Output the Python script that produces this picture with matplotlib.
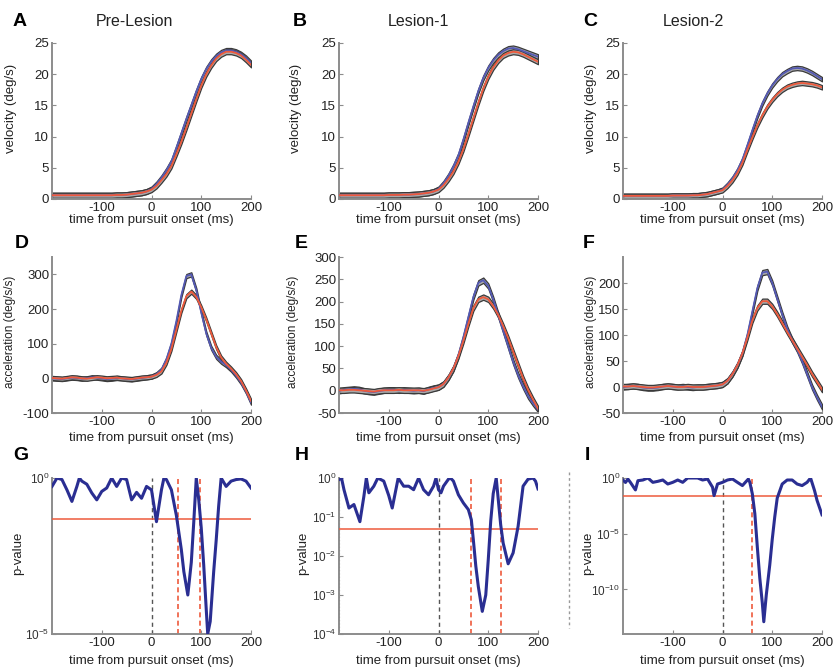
import numpy as np
import matplotlib
matplotlib.use("Agg")
import matplotlib.pyplot as plt
from matplotlib.lines import Line2D
from matplotlib.ticker import FixedLocator, NullLocator, LogFormatterMathtext

plt.rcParams["font.family"] = ["Liberation Sans", "DejaVu Sans"]
plt.rcParams["axes.unicode_minus"] = False

# time base for velocity / acceleration traces (ms)
t = np.arange(-200, 201, 10)

# eye velocity (deg/s), blue = first condition, red = second condition
vel_a_blue = [0.6, 0.6, 0.6, 0.6, 0.6, 0.6, 0.6, 0.6, 0.6, 0.6, 0.6, 0.6, 0.6, 0.65, 0.65,
              0.7, 0.8, 0.9, 1.0, 1.2, 1.6,
              2.4, 3.4, 4.6, 6.0, 8.2, 10.5, 12.8, 15.0, 17.2, 19.2, 20.8, 22.0, 22.9, 23.5,
              23.8, 23.8, 23.6, 23.2, 22.6, 21.8]
vel_a_red = [0.6, 0.6, 0.6, 0.6, 0.6, 0.6, 0.6, 0.6, 0.6, 0.6, 0.6, 0.6, 0.6, 0.65, 0.65,
             0.7, 0.8, 0.9, 1.0, 1.2, 1.5,
             2.1, 3.0, 4.0, 5.3, 7.2, 9.2, 11.4, 13.7, 16.0, 18.2, 20.0, 21.4, 22.5, 23.2,
             23.6, 23.6, 23.4, 23.0, 22.3, 21.5]
vel_b_blue = [0.6, 0.6, 0.6, 0.6, 0.6, 0.6, 0.6, 0.6, 0.6, 0.6, 0.65, 0.65, 0.65, 0.7, 0.7,
              0.75, 0.8, 0.9, 1.0, 1.2, 1.6,
              2.5, 3.7, 5.2, 7.0, 9.5, 12.2, 14.8, 17.3, 19.4, 21.0, 22.2, 23.1, 23.7, 24.1,
              24.2, 24.0, 23.7, 23.4, 23.1, 22.8]
vel_b_red = [0.6, 0.6, 0.6, 0.6, 0.6, 0.6, 0.6, 0.6, 0.6, 0.6, 0.65, 0.65, 0.65, 0.7, 0.7,
             0.75, 0.8, 0.9, 1.0, 1.2, 1.5,
             2.2, 3.2, 4.4, 6.0, 8.0, 10.4, 12.9, 15.4, 17.7, 19.6, 21.1, 22.2, 23.0, 23.4,
             23.6, 23.5, 23.2, 22.8, 22.4, 22.0]
vel_c_blue = [0.5, 0.5, 0.5, 0.5, 0.5, 0.5, 0.5, 0.5, 0.5, 0.5, 0.55, 0.55, 0.55, 0.55, 0.6,
              0.6, 0.7, 0.8, 1.0, 1.2, 1.5,
              2.3, 3.3, 4.6, 6.3, 8.6, 11.0, 13.3, 15.3, 16.9, 18.2, 19.2, 20.0, 20.5, 20.9,
              21.0, 20.9, 20.6, 20.2, 19.7, 19.2]
vel_c_red = [0.5, 0.5, 0.5, 0.5, 0.5, 0.5, 0.5, 0.5, 0.5, 0.5, 0.55, 0.55, 0.55, 0.55, 0.6,
             0.6, 0.7, 0.8, 1.0, 1.2, 1.4,
             2.1, 3.0, 4.2, 5.8, 7.9, 9.9, 11.8, 13.4, 14.8, 15.9, 16.8, 17.5, 18.0, 18.3,
             18.5, 18.6, 18.5, 18.4, 18.2, 17.9]

# eye acceleration (deg/s/s)
acc_d_blue = [0, -1, -2, 0, 2, 1, -1, 0, 3, 2, 0, -2, -1, 1, 0, -2, -3, -1, 1, 3, 5,
              12, 25, 55, 100, 165, 240, 295, 300, 255, 190, 130, 88, 62, 48, 38, 25, 8, -12, -38, -70]
acc_d_red = [1, 0, -1, 1, 3, 2, 0, -1, 1, 3, 2, 0, 1, 2, 0, -1, -2, 0, 2, 3, 5,
             10, 20, 45, 85, 140, 195, 237, 250, 235, 205, 170, 130, 90, 60, 42, 28, 12, -8, -35, -65]
acc_e_blue = [0, 2, 3, 4, 3, 0, -2, -3, -1, 1, 2, 2, 1, 2, 1, 0, 1, -1, 3, 6, 8,
              15, 30, 50, 80, 120, 165, 210, 242, 248, 235, 205, 170, 135, 100, 65, 35, 10, -12, -28, -42]
acc_e_red = [1, 1, 2, 2, 1, 0, -1, -2, 0, 1, 1, 1, 2, 1, 1, 1, 1, 0, 2, 5, 8,
             15, 30, 50, 78, 112, 150, 185, 205, 210, 205, 190, 170, 145, 118, 88, 58, 28, 2, -20, -40]
acc_f_blue = [0, 1, 2, 1, -1, -2, -2, -1, 1, 2, 1, 0, 1, 0, -1, 0, 0, 1, 2, 3, 5,
              12, 25, 42, 65, 100, 145, 190, 220, 222, 200, 170, 140, 112, 90, 72, 50, 25, 0, -20, -38]
acc_f_red = [1, 1, 2, 1, 0, -1, -1, 0, 1, 2, 1, 0, 0, 1, 0, 0, 0, 1, 2, 3, 5,
             12, 25, 42, 65, 95, 128, 152, 165, 165, 155, 140, 123, 106, 90, 74, 58, 42, 25, 10, -5]

# half-width of the SEM band drawn around each mean trace
sem_vel = [0.4, 0.4, 0.35]
sem_acc = [6, 6, 5]

# p-value traces (log10 p) with their own time points
tG = [-200, -190, -180, -170, -160, -150, -145, -140, -130, -120, -110, -100, -90, -80, -70,
      -60, -50, -40, -30, -20, -10, 0, 10, 20, 25, 30, 40, 50, 60, 65, 73, 80, 85, 90, 95,
      100, 105, 110, 113, 118, 125, 130, 135, 140, 150, 160, 170, 180, 190, 200]
lpG = [-0.27, 0.0, -0.05, -0.38, -0.75, -0.27, 0.0, -0.1, -0.2, -0.48, -0.7, -0.43, -0.32, 0.0, -0.27,
       0.0, -0.05, -0.7, -0.46, -0.65, -0.27, -0.38, -1.4, -0.38, 0.0, -0.05, -0.38, -1.2, -2.3, -3.0,
       -3.75, -2.7, -1.4, 0.0, -0.7, -1.6, -2.8, -4.2, -5.0, -4.6, -3.0, -2.0, -0.9, 0.0, -0.27,
       -0.1, -0.05, -0.03, -0.1, -0.32]
tH = [-200, -195, -190, -180, -170, -158, -150, -145, -140, -130, -122, -110, -100, -93, -81,
      -70, -60, -50, -40, -30, -20, -10, -5, 0, 5, 10, 20, 24, 30, 40, 50, 60, 66, 70, 75,
      80, 88, 95, 100, 105, 110, 116, 125, 130, 140, 150, 160, 170, 180, 190, 195, 200]
lpH = [-0.04, 0.0, -0.3, -0.77, -0.68, -1.12, -0.47, 0.0, -0.38, -0.21, 0.0, -0.08, -0.45, -0.77, 0.0,
       -0.21, -0.21, -0.3, 0.0, -0.3, -0.43, -0.21, 0.0, -0.3, -0.38, -0.21, -0.03, 0.0, -0.08, -0.43,
       -0.64, -0.81, -1.07, -1.58, -2.26, -2.78, -3.42, -3.0, -2.1, -1.1, -0.4, 0.0, -1.2, -1.67, -2.2,
       -1.92, -1.24, -0.21, -0.03, 0.0, -0.08, -0.28]
tI = [-200, -195, -190, -185, -175, -170, -160, -150, -140, -130, -120, -110, -100, -90, -80,
      -70, -60, -50, -40, -30, -20, -17, -10, 0, 10, 20, 30, 40, 52, 55, 60, 65, 70, 75, 80,
      83, 88, 95, 100, 105, 110, 120, 130, 140, 150, 160, 170, 177, 185, 190, 200]
lpI = [-0.18, -0.4, -0.1, -0.4, -1.07, -0.24, -0.18, 0.0, -0.39, -0.3, -0.18, -0.54, -0.39, -0.18, -0.39,
       0.0, 0.0, 0.0, -0.18, -0.09, -0.83, -1.58, -0.54, -0.39, -0.18, -0.09, -0.39, -0.68, -0.09, -0.4,
       -1.43, -3.2, -6.2, -9.0, -11.2, -12.9, -10.5, -7.8, -5.5, -3.5, -1.8, -0.54, -0.18, -0.18, -0.54,
       -0.68, -0.39, 0.0, -1.13, -2.0, -3.3]

p_thresh = [0.05, 0.05, 0.025]
sig_lines = [[53, 97], [66, 126], [60]]

titles = ["Pre-Lesion", "Lesion-1", "Lesion-2"]
letters = [["A", "B", "C"], ["D", "E", "F"], ["G", "H", "I"]]

BLUE = "#5459b4"
RED = "#ee5a3c"
PBLUE = "#2a2e92"
BAND_FACE = "#a9a9a9"
BAND_EDGE = "#3a3a3a"
AXC = "#8c8c8c"

W, H = 834, 672
fig = plt.figure(figsize=(W / 100, H / 100), dpi=100)

col_left = [52, 339, 623]
col_w = 199
row_top = [43, 257, 478]
row_h = 156

# label placement (right edge of y label in pixels left of the axes, fraction up the axes)
ylab_dx = [[-35, -37, -26], [-36, -40, -26], [-28, -30, -29]]
ylab_y = [0.58, 0.52, 0.52]
xlab_y = [-0.098, -0.122, -0.135]


def make_ax(r, c):
    x0 = col_left[c]
    y0 = row_top[r]
    return fig.add_axes([x0 / W, 1 - (y0 + row_h) / H, col_w / W, row_h / H])


def style(ax, r, c):
    for s in ["top", "right"]:
        ax.spines[s].set_visible(False)
    for s in ["left", "bottom"]:
        ax.spines[s].set_color(AXC)
        ax.spines[s].set_linewidth(1.4)
    ax.tick_params(direction="in", length=3, width=0.8, color=AXC, labelsize=9.5, labelcolor="#222222", pad=2)
    ax.set_xlim(-200, 200)
    ax.set_xticks([-100, 0, 100, 200])
    ax.set_xlabel("time from pursuit onset (ms)", fontsize=9.5, color="#222222")
    ax.xaxis.set_label_coords(0.5, xlab_y[r])


def band(ax, y, sem, color):
    y = np.array(y, dtype=float)
    ax.fill_between(t, y - sem, y + sem, facecolor=BAND_FACE, edgecolor=BAND_EDGE, linewidth=0.9, zorder=2)
    ax.plot(t, y, color=color, lw=1.3, zorder=3)


vel = [(vel_a_blue, vel_a_red), (vel_b_blue, vel_b_red), (vel_c_blue, vel_c_red)]
acc = [(acc_d_blue, acc_d_red), (acc_e_blue, acc_e_red), (acc_f_blue, acc_f_red)]
acc_lims = [(-100, 350), (-50, 300), (-50, 250)]
acc_ticks = [[-100, 0, 100, 200, 300], [-50, 0, 50, 100, 150, 200, 250, 300], [-50, 0, 50, 100, 150, 200]]
pvals = [(tG, lpG), (tH, lpH), (tI, lpI)]
p_lims = [(1e-5, 1), (1e-4, 1), (1e-14, 1)]
p_ticks = [[1e-5, 1], [1e-4, 1e-3, 1e-2, 1e-1, 1], [1e-10, 1e-5, 1]]

for c in range(3):
    # velocity
    ax = make_ax(0, c)
    style(ax, 0, c)
    band(ax, vel[c][0], sem_vel[c], BLUE)
    band(ax, vel[c][1], sem_vel[c], RED)
    ax.set_ylim(0, 25)
    ax.set_yticks([0, 5, 10, 15, 20, 25])
    ax.set_ylabel("velocity (deg/s)", fontsize=9.5, color="#222222")
    ax.yaxis.set_label_coords(ylab_dx[0][c] / col_w, ylab_y[0])

    # acceleration
    ax = make_ax(1, c)
    style(ax, 1, c)
    band(ax, acc[c][0], sem_acc[c], BLUE)
    band(ax, acc[c][1], sem_acc[c], RED)
    ax.set_ylim(*acc_lims[c])
    ax.set_yticks(acc_ticks[c])
    ax.set_ylabel("acceleration (deg/s/s)", fontsize=8.5, color="#222222")
    ax.yaxis.set_label_coords(ylab_dx[1][c] / col_w, ylab_y[1])

    # p-values
    ax = make_ax(2, c)
    style(ax, 2, c)
    ax.set_yscale("log")
    tp, lp = pvals[c]
    ax.plot(tp, 10.0 ** np.array(lp), color=PBLUE, lw=2.2, zorder=4, solid_joinstyle="round")
    ax.axhline(p_thresh[c], color=RED, lw=1.1, zorder=3)
    ax.axvline(0, color="#555555", lw=1.0, ls=(0, (3, 2.5)), zorder=2)
    for x in sig_lines[c]:
        ax.axvline(x, color=RED, lw=1.2, ls=(0, (3, 2)), zorder=2)
    ax.set_ylim(*p_lims[c])
    ax.yaxis.set_major_locator(FixedLocator(p_ticks[c]))
    ax.yaxis.set_minor_locator(NullLocator())
    ax.yaxis.set_major_formatter(LogFormatterMathtext())
    ax.tick_params(axis="y", labelsize=8.5, labelcolor="#333333")
    ax.set_ylabel("p-value", fontsize=9.5, color="#222222")
    ax.yaxis.set_label_coords(ylab_dx[2][c] / col_w, ylab_y[2])
    if c == 1:
        ax.axvline(-199, color="#444444", lw=0.8, ls=(0, (1, 2)), zorder=1)

# column titles
title_x = [134, 418, 693]
for c in range(3):
    fig.text(title_x[c] / W, 1 - 21 / H, titles[c], ha="center", va="center", fontsize=11.5, color="#222222")

# panel letters
letter_x = [[13, 293, 583], [15, 295, 583], [13, 295, 585]]
letter_y = [21, 244, 456]
for r in range(3):
    for c in range(3):
        fig.text(letter_x[r][c] / W, 1 - letter_y[r] / H, letters[r][c], ha="left", va="center",
                 fontsize=14, fontweight="bold", color="black")

# stray dashed separator seen between panels H and I
fig.add_artist(Line2D([569 / W, 569 / W], [1 - 472 / H, 1 - 628 / H], color="#9a9a9a", lw=1.0, ls=(0, (2, 2))))

fig.savefig("out.png", dpi=100)
